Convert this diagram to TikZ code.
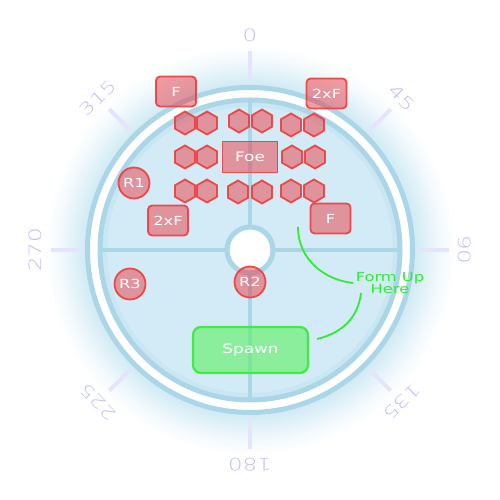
\documentclass[tikz,border=0pt]{standalone}
\usepackage{fontspec}
\setmainfont{DejaVu Sans}
\newfontfamily\wide[FakeStretch=1.3]{DejaVu Sans}
\newfontfamily\widel[FakeStretch=1.35]{DejaVu Sans ExtraLight}
\usetikzlibrary{shapes.geometric}
\definecolor{ringc}{RGB}{170,214,232}
\definecolor{diskc}{RGB}{211,235,246}
\definecolor{glowc}{RGB}{208,234,245}
\colorlet{glowa}{glowc!65!white}
\colorlet{glowb}{glowc!25!white}
\definecolor{tickc}{RGB}{230,228,250}
\definecolor{labc}{RGB}{190,190,250}
\definecolor{redf}{RGB}{235,60,70}
\definecolor{redd}{RGB}{240,60,60}
\definecolor{grf}{RGB}{100,240,110}
\definecolor{grd}{RGB}{60,235,60}
\definecolor{grl}{RGB}{50,235,50}
\pgfdeclareradialshading{glowsh}{\pgfpoint{0bp}{0bp}}{color(0bp)=(glowc); color(20bp)=(glowc); color(21.5bp)=(glowa); color(23.3bp)=(glowb); color(25bp)=(white); color(50bp)=(white)}
\tikzset{
  redstyle/.style={fill=redf, fill opacity=0.5, draw=redd, draw opacity=0.9, line width=1.8, text=white, text opacity=1},
  hexa/.style={redstyle, regular polygon, regular polygon sides=6, shape border rotate=30, minimum size=23, inner sep=0pt, outer sep=0pt},
  redbox/.style={redstyle, rectangle, rounded corners=4, minimum width=40, minimum height=30, inner sep=0pt, font=\wide\fontsize{12.5}{14}\selectfont},
  foebox/.style={redstyle, rectangle, minimum width=55, minimum height=31, inner sep=0pt, font=\wide\fontsize{13}{14}\selectfont},
  rcirc/.style={redstyle, circle, minimum size=31, inner sep=0pt, font=\wide\fontsize{12.5}{14}\selectfont},
  spawnbox/.style={rectangle, rounded corners=8, minimum width=115, minimum height=46, inner sep=0pt, fill=grf, fill opacity=0.65, draw=grd, draw opacity=0.95, line width=2.2, text=white, text opacity=1, font=\wide\fontsize{13}{14}\selectfont},
  gline/.style={draw=grl, line width=1.8},
  formtxt/.style={text=grl, align=center, inner sep=0pt, font=\wide\fontsize{12.5}{10}\selectfont},
  ticksty/.style={draw=tickc, line width=4},
  labsty/.style={text=labc, inner sep=0pt, font=\widel\fontsize{17}{18}\selectfont},
}
\begin{document}
\begin{tikzpicture}[x=1pt,y=1pt]
\useasboundingbox (0,0) rectangle (500,500);
\fill[white] (0,0) rectangle (500,500);
% glow
\shade[shading=glowsh] (250,250) circle (205);
% arena
\fill[white] (250,250) circle (162);
\draw[ringc, line width=5] (250,250) circle (162.5);
\fill[diskc] (250,250) circle (150);
\draw[ringc!25!diskc, line width=6] (250,250) circle (146);
\draw[ringc, line width=5] (250,250) circle (150);
% cross
\draw[ringc, line width=4] (250,100) -- (250,400);
\draw[ringc, line width=4] (100,250) -- (400,250);
\fill[white] (250,250) circle (23);
\draw[ringc, line width=5] (250,250) circle (23);
% ticks and labels
\foreach \a in {0,45,...,315}{
  \draw[ticksty] ({250+170*sin(\a)},{250+170*cos(\a)}) -- ({250+199*sin(\a)},{250+199*cos(\a)});
  \node[labsty, rotate=-\a] (lab\a) at ({250+215*sin(\a)},{250+215*cos(\a)}) {\a};
}
% hexagons
\node[hexa] (h11) at (185,377) {};
\node[hexa] (h12) at (207,377) {};
\node[hexa] (h13) at (239,379) {};
\node[hexa] (h14) at (262,379) {};
\node[hexa] (h15) at (291,375) {};
\node[hexa] (h16) at (314,375) {};
\node[hexa] (h21) at (185,343) {};
\node[hexa] (h22) at (207,343) {};
\node[hexa] (h25) at (292,343) {};
\node[hexa] (h26) at (315,343) {};
\node[hexa] (h31) at (185,309) {};
\node[hexa] (h32) at (207,309) {};
\node[hexa] (h33) at (238,308) {};
\node[hexa] (h34) at (262,308) {};
\node[hexa] (h35) at (291,309) {};
\node[hexa] (h36) at (314,309) {};
% boxes
\node[foebox] (foe) at (250,343) {Foe};
\node[redbox] (ftl) at (176,408.5) {F};
\node[redbox] (ftr) at (326.5,406.5) {2xF};
\node[redbox] (fl) at (168,279.5) {2xF};
\node[redbox] (fr) at (330.5,281.5) {F};
\node[rcirc] (r1) at (134,317) {R1};
\node[rcirc] (r3) at (130,216) {R3};
\node[rcirc] (r2) at (250,218) {R2};
\node[spawnbox] (spawn) at (250.5,150) {Spawn};
% form up
\node[formtxt] (form) at (390,217) {Form Up\\Here};
\coordinate (c1s) at (298,273);
\coordinate (c1e) at (353,217);
\coordinate (c2s) at (361,207);
\coordinate (c2e) at (317,161);
\draw[gline] (c1s) .. controls (298,240) and (325,220) .. (c1e);
\draw[gline] (c2s) .. controls (358,182) and (342,167) .. (c2e);
\end{tikzpicture}
\end{document}
